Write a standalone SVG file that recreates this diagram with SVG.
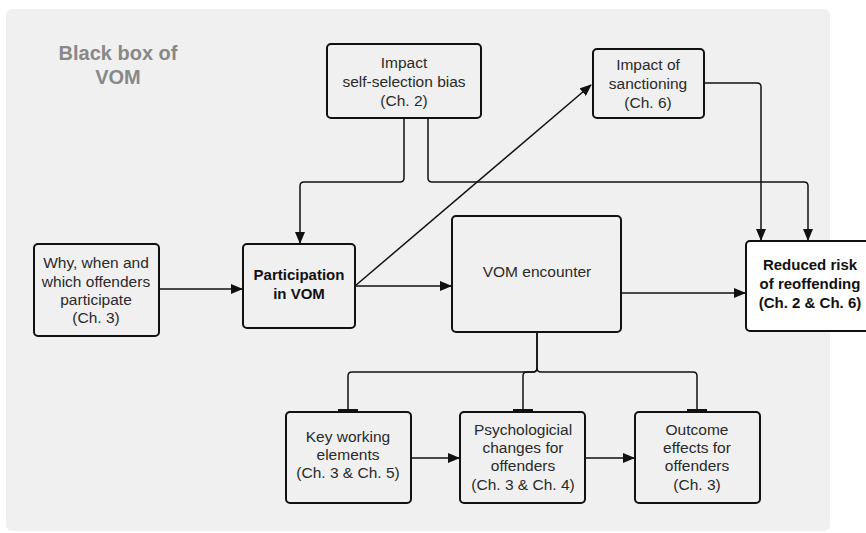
<svg xmlns="http://www.w3.org/2000/svg" width="866" height="533" viewBox="0 0 866 533">
<defs>
<style>
.box{fill:#f0f0f0;stroke:#111;stroke-width:2}
.wbox{fill:#ffffff;stroke:#111;stroke-width:2}
.t{font-family:"Liberation Sans",Arial,sans-serif;font-size:15.5px;fill:#2a2a2a;text-anchor:middle}
.b{font-weight:bold;font-size:15px;fill:#111}
.title{font-family:"Liberation Sans",Arial,sans-serif;font-size:20px;font-weight:bold;fill:#888;text-anchor:middle}
.c{fill:none;stroke:#111;stroke-width:1.5}
.bar{fill:#111}
</style>
<marker id="arr" markerWidth="12" markerHeight="10" refX="11" refY="5" orient="auto" markerUnits="userSpaceOnUse">
<path d="M0,0 L12,5 L0,10 Z" fill="#111"/>
</marker>
</defs>
<rect x="0" y="0" width="866" height="533" fill="#ffffff"/>
<rect x="6" y="9" width="824" height="522" rx="6" fill="#f0f0f0"/>
<g id="title">
<text class="title" x="118" y="60">Black box of</text>
<text class="title" x="118" y="84">VOM</text>
</g>
<g id="connectors">
<path class="c" d="M404,118 V178 Q404,182 400,182 H304 Q300,182 300,186 V243" marker-end="url(#arr)"/>
<path class="c" d="M428,118 V178 Q428,182 432,182 H804 Q808,182 808,186 V240" marker-end="url(#arr)"/>
<path class="c" d="M704,83 H757 Q761,83 761,87 V240" marker-end="url(#arr)"/>
<path class="c" d="M159,289 H242" marker-end="url(#arr)"/>
<path class="c" d="M355,286 L591,85" marker-end="url(#arr)"/>
<path class="c" d="M355,286 H451" marker-end="url(#arr)"/>
<path class="c" d="M621,293 H745" marker-end="url(#arr)"/>
<path class="c" d="M537,332 V368 Q537,372 533,372 H352 Q348,372 348,376 V411"/>
<path class="c" d="M537,332 V368 Q537,372 541,372 H693 Q697,372 697,376 V411"/>
<path class="c" d="M537,368 Q537,372 533,372 H527 Q523,372 523,376 V411"/>
<rect class="bar" x="338" y="409" width="20" height="3"/>
<rect class="bar" x="513" y="409" width="20" height="3"/>
<rect class="bar" x="687" y="409" width="20" height="3"/>
<path class="c" d="M411,458 H459" marker-end="url(#arr)"/>
<path class="c" d="M585,458 H634" marker-end="url(#arr)"/>
</g>
<g id="node-selfselection">
<rect class="box" x="327" y="44" width="154" height="74" rx="4"/>
<text class="t" x="404" y="68">Impact</text>
<text class="t" x="404" y="87">self-selection bias</text>
<text class="t" x="404" y="106">(Ch. 2)</text>
</g>
<g id="node-sanctioning">
<rect class="box" x="593" y="49" width="111" height="69" rx="4"/>
<text class="t" x="648" y="70">Impact of</text>
<text class="t" x="648" y="89">sanctioning</text>
<text class="t" x="648" y="108">(Ch. 6)</text>
</g>
<g id="node-why">
<rect class="box" x="34" y="244" width="125" height="92" rx="4"/>
<text class="t" x="96" y="268">Why, when and</text>
<text class="t" x="96" y="287">which offenders</text>
<text class="t" x="96" y="305">participate</text>
<text class="t" x="96" y="323">(Ch. 3)</text>
</g>
<g id="node-participation">
<rect class="box" x="243" y="244" width="112" height="84" rx="4"/>
<text class="t b" x="299" y="280">Participation</text>
<text class="t b" x="299" y="299">in VOM</text>
</g>
<g id="node-encounter">
<rect class="box" x="452" y="216" width="169" height="116" rx="4"/>
<text class="t" x="537" y="277">VOM encounter</text>
</g>
<g id="node-reduced">
<rect class="wbox" x="746" y="241" width="130" height="90" rx="4"/>
<text class="t b" x="810" y="270">Reduced risk</text>
<text class="t b" x="810" y="289">of reoffending</text>
<text class="t b" x="810" y="308">(Ch. 2 &amp; Ch. 6)</text>
</g>
<g id="node-key">
<rect class="box" x="286" y="412" width="125" height="91" rx="4"/>
<text class="t" x="348" y="442">Key working</text>
<text class="t" x="348" y="460">elements</text>
<text class="t" x="348" y="478">(Ch. 3 &amp; Ch. 5)</text>
</g>
<g id="node-psych">
<rect class="box" x="460" y="412" width="125" height="91" rx="4"/>
<text class="t" x="523" y="435">Psychologicial</text>
<text class="t" x="523" y="453">changes for</text>
<text class="t" x="523" y="471">offenders</text>
<text class="t" x="523" y="490">(Ch. 3 &amp; Ch. 4)</text>
</g>
<g id="node-outcome">
<rect class="box" x="635" y="412" width="125" height="91" rx="4"/>
<text class="t" x="697" y="435">Outcome</text>
<text class="t" x="697" y="453">effects for</text>
<text class="t" x="697" y="471">offenders</text>
<text class="t" x="697" y="490">(Ch. 3)</text>
</g>
</svg>
